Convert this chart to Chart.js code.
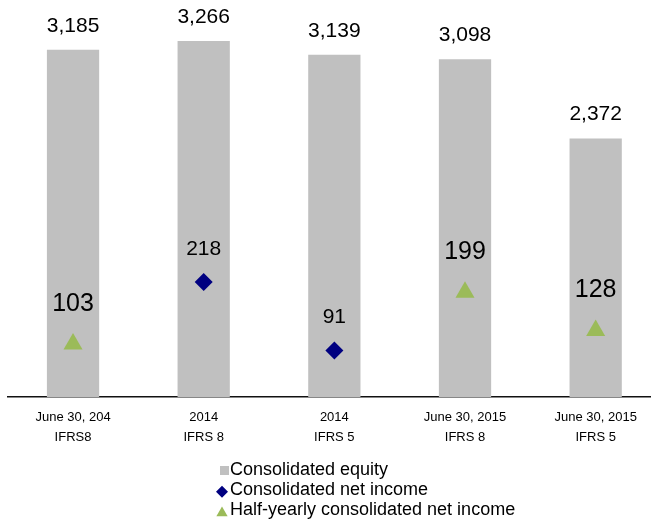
<!DOCTYPE html>
<html>
<head>
<meta charset="utf-8">
<script src="https://cdn.jsdelivr.net/npm/chart.js@4"></script>
<style>
  html, body { margin: 0; padding: 0; background: #fff; overflow: hidden; }
  #wrap { width: 661px; height: 519px; }
</style>
</head>
<body>
<div id="wrap"><canvas id="equityChart" width="661" height="519"></canvas></div>
<script>
const categories = [
  ["June 30, 204", "IFRS8"],
  ["2014", "IFRS 8"],
  ["2014", "IFRS 5"],
  ["June 30, 2015", "IFRS 8"],
  ["June 30, 2015", "IFRS 5"]
];
const equity = [3185, 3266, 3139, 3098, 2372];
const netIncome = [null, 218, 91, null, null];
const halfYearIncome = [103, null, null, 199, 128];

const FONT = "'Liberation Sans', Arial, sans-serif";

// value labels above bars and markers
const valueLabels = {
  id: "valueLabels",
  afterDatasetsDraw(chart) {
    const ctx = chart.ctx;
    ctx.save();
    ctx.fillStyle = "#000";
    ctx.textAlign = "center";
    ctx.textBaseline = "middle";
    chart.data.datasets.forEach((ds, i) => {
      const meta = chart.getDatasetMeta(i);
      meta.data.forEach((el, j) => {
        const v = ds.data[j];
        if (v == null) return;
        ctx.font = ds.labelSize + "px " + FONT;
        ctx.fillText(v.toLocaleString("en-US"), el.x, el.y - ds.labelGap);
      });
    });
    ctx.restore();
  }
};

// stacked legend under the axis, left aligned
const stackedLegend = {
  id: "stackedLegend",
  afterDraw(chart) {
    const ctx = chart.ctx;
    const items = [0, 1, 2].map((i) => chart.data.datasets[i]);
    ctx.save();
    ctx.font = "18px " + FONT;
    ctx.textBaseline = "middle";
    ctx.textAlign = "left";
    items.forEach((ds, k) => {
      const y = 470.5 + k * 19.8;
      if (ds.type === "bar") {
        ctx.fillStyle = ds.backgroundColor;
        ctx.fillRect(220, y - 4.5, 9, 9);
      } else {
        ctx.fillStyle = ds.pointBackgroundColor;
        ctx.strokeStyle = ds.pointBackgroundColor;
        ctx.lineWidth = 0;
        Chart.helpers.drawPoint(ctx, { pointStyle: ds.pointStyle, radius: ds.legendRadius, rotation: 0, borderWidth: 0 }, 222, y + (ds.pointStyle === "triangle" ? 3 : 1.5));
      }
      ctx.fillStyle = "#000";
      ctx.fillText(ds.label, 230, y);
    });
    ctx.restore();
  }
};

new Chart(document.getElementById("equityChart"), {
  data: {
    labels: categories,
    datasets: [
      {
        type: "bar",
        label: "Consolidated equity",
        data: equity,
        backgroundColor: "#c0c0c0",
        barPercentage: 0.4,
        categoryPercentage: 1,
        yAxisID: "y",
        order: 3,
        labelSize: 21,
        labelGap: 24
      },
      {
        type: "line",
        label: "Consolidated net income",
        data: netIncome,
        showLine: false,
        pointStyle: "rectRot",
        pointRadius: 9,
        pointBorderWidth: 0,
        pointBackgroundColor: "#000080",
        pointBorderColor: "#000080",
        yAxisID: "y2",
        order: 1,
        legendRadius: 6,
        labelSize: 21,
        labelGap: 33
      },
      {
        type: "line",
        label: "Half-yearly consolidated net income",
        data: halfYearIncome,
        showLine: false,
        pointStyle: "triangle",
        pointRadius: 11,
        pointBorderWidth: 0,
        pointBackgroundColor: "#9bbb59",
        pointBorderColor: "#9bbb59",
        yAxisID: "y2",
        order: 2,
        legendRadius: 6.5,
        labelSize: 25,
        labelGap: 40
      }
    ]
  },
  options: {
    responsive: false,
    animation: false,
    events: [],
    layout: { autoPadding: false, padding: { left: 7.7, right: 0, top: 0, bottom: 0 } },
    plugins: {
      legend: { display: false },
      tooltip: { enabled: false }
    },
    scales: {
      x: {
        offset: true,
        grid: { display: false, drawTicks: false },
        border: { display: true, color: "#111", width: 1.5 },
        ticks: {
          color: "#000",
          padding: 10,
          maxRotation: 0,
          autoSkip: false,
          font: { family: FONT, size: 13, lineHeight: 1.55 }
        },
        afterFit(scale) { scale.height = 122; }
      },
      y: {
        display: false,
        min: 0,
        max: 3642
      },
      y2: {
        display: false,
        position: "right",
        min: 5,
        max: 740
      }
    }
  },
  plugins: [valueLabels, stackedLegend]
});
</script>
</body>
</html>
